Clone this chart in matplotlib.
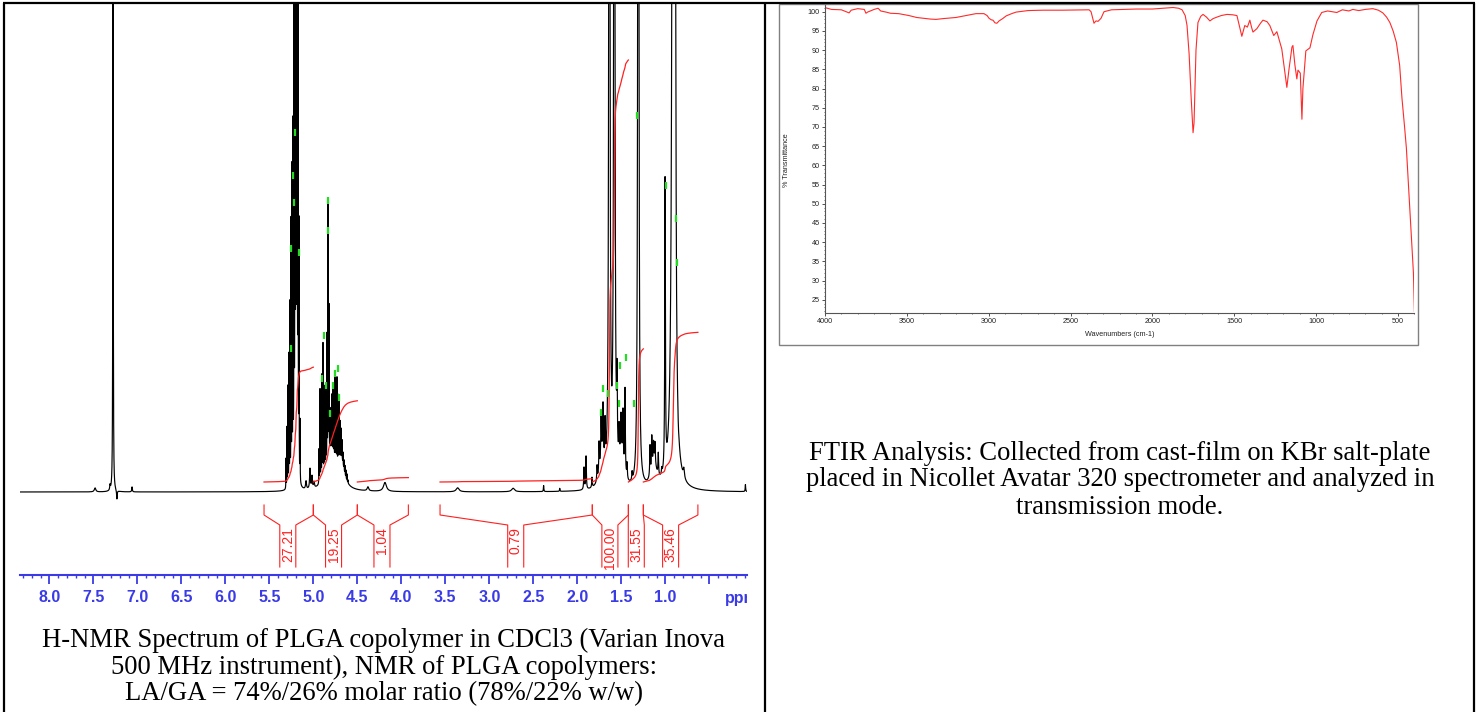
import numpy as np
import matplotlib
matplotlib.use("Agg")
import matplotlib.pyplot as plt
from matplotlib.ticker import MultipleLocator
from matplotlib.transforms import Bbox
from matplotlib.lines import Line2D
from matplotlib.patches import Rectangle

W, H = 1478, 712

# ---------------- NMR data (peak list) ----------------
# isolated / broad peaks
nmr_ppm = [7.48, 7.31, 7.276, 7.232, 7.06,
           5.083, 5.038, 5.015, 4.992,
           4.80, 4.68,
           4.38, 4.186, 3.36, 2.73, 2.383, 2.20,
           1.924, 1.901, 1.833,
           1.72, 1.776, 1.753, 1.730, 1.708, 1.685,
           1.636, 1.580,
           1.50, 1.549, 1.526, 1.504, 1.481, 1.458, 1.435, 1.378,
           1.307,
           1.13, 1.174, 1.154, 1.134, 1.117, 1.080, 1.041,
           1.003, 0.909, 0.886, 0.852, 0.79, 0.09]
nmr_height = [4, 5, 1200, -9, 5,
              8, 20, 12, 6,
              35, 25,
              4, 9, 4, 3.5, 6, 3,
              22, 33, 10,
              30, 15, 30, 40, 50, 40,
              2500, 2500,
              30, 75, 30, 35, 50, 85, 15, 8,
              2500,
              25, 30, 32, 18, 20, 22, 6,
              290, 3000, 400, -5, 9, 7]
nmr_hwhm = [0.01, 0.004, 0.0018, 0.004, 0.004,
            0.006, 0.005, 0.005, 0.006,
            0.06, 0.04,
            0.01, 0.02, 0.02, 0.02, 0.003, 0.003,
            0.004, 0.004, 0.004,
            0.03, 0.004, 0.004, 0.004, 0.004, 0.004,
            0.004, 0.004,
            0.03, 0.004, 0.004, 0.004, 0.004, 0.004, 0.004, 0.004,
            0.004,
            0.035, 0.004, 0.004, 0.004, 0.004, 0.004, 0.004,
            0.004, 0.008, 0.006, 0.005, 0.008, 0.003]

# dense multiplet lines (lactide CH near 5.2 ppm, glycolide CH2 near 4.8 ppm)
mult_ppm = [5.310, 5.299, 5.288, 5.276, 5.265, 5.253, 5.242, 5.231, 5.219, 5.208,
            5.197, 5.185, 5.174, 5.163, 5.151,
            4.935, 4.924, 4.912, 4.901, 4.890, 4.878, 4.867, 4.856, 4.844, 4.833,
            4.822, 4.810, 4.799, 4.788, 4.776, 4.765, 4.753, 4.742, 4.731, 4.719,
            4.708, 4.697, 4.685, 4.674, 4.663, 4.651, 4.640, 4.629, 4.617, 4.606]
mult_height = [30, 60, 100, 130, 180, 260, 310, 350, 600, 900,
               1500, 1400, 700, 250, 60,
               34, 93, 77, 103, 133, 82, 85, 72, 128, 253,
               149, 40, 43, 58, 70, 58, 85, 73, 87, 69,
               64, 39, 30, 20, 12, 10, 9, 8, 7, 3]
mult_hwhm = 0.0015

# integration regions (ppm), values and label positions
int_start = [5.56, 5.00, 4.50, 3.56, 1.83, 1.42, 1.25]
int_end = [5.00, 4.50, 3.92, 1.83, 1.42, 1.25, 0.63]
int_values = [27.21, 19.25, 1.04, 0.79, 100.00, 31.55, 35.46]
int_labels = ["27.21", "19.25", "1.04", "0.79", "100.00", "31.55", "35.46"]
int_label_ppm = [5.29, 4.77, 4.22, 2.70, 1.63, 1.33, 0.94]

# peak-pick marks (ppm, intensity)
mark_ppm = [5.208, 5.231, 5.219, 5.253, 5.163, 5.253, 4.833, 4.833, 4.878, 4.901,
            4.856, 4.776, 4.753, 4.719, 4.708, 4.810, 1.319, 0.989, 0.875, 0.864,
            1.708, 1.730, 1.651, 1.549, 1.515, 1.447, 1.526, 1.356]
mark_int = [360, 317, 290, 244, 240, 144, 292, 262, 157, 114,
            107, 107, 119, 124, 95, 79, 377, 307, 274, 230,
            104, 80, 99, 107, 127, 135, 89, 89]

ppm_major = [8.0, 7.5, 7.0, 6.5, 6.0, 5.5, 5.0, 4.5, 4.0, 3.5, 3.0, 2.5, 2.0, 1.5, 1.0, 0.5]
ppm_labels = ["8.0", "7.5", "7.0", "6.5", "6.0", "5.5", "5.0", "4.5", "4.0", "3.5",
              "3.0", "2.5", "2.0", "1.5", "1.0", ""]

# ---------------- FTIR data ----------------
ftir_wn = [4000, 3994, 3960, 3900, 3853, 3840, 3800, 3760, 3750, 3740, 3700, 3676, 3660,
           3627, 3600, 3550, 3487, 3440, 3401, 3360, 3322, 3280, 3200, 3140, 3078, 3029,
           3010, 2998, 2985, 2974, 2962, 2950, 2937, 2915, 2894, 2860, 2833, 2760, 2668,
           2550, 2387, 2375, 2369, 2357, 2345, 2332, 2314, 2296, 2250, 2180, 2100, 2000,
           1940, 1874, 1840, 1819, 1800, 1789, 1776, 1764, 1752, 1746, 1740, 1734, 1722,
           1705, 1691, 1670, 1649, 1630, 1606, 1580, 1545, 1510, 1484, 1472, 1454, 1445,
           1436, 1420, 1405, 1395, 1386, 1362, 1340, 1325, 1300, 1283, 1259, 1240, 1210,
           1191, 1179, 1166, 1148, 1142, 1130, 1118, 1111, 1097, 1087, 1081, 1063, 1038,
           1020, 995, 966, 930, 874, 840, 800, 776, 740, 700, 654, 620, 593, 570, 550,
           530, 510, 490, 476, 460, 449, 437, 425, 415, 406, 400]
ftir_T = [100.8, 101.0, 100.6, 100.5, 99.7, 100.4, 100.8, 100.6, 99.6, 99.9, 100.6, 100.9, 100.2,
          99.9, 99.6, 99.5, 99.0, 98.5, 98.3, 98.1, 98.0, 98.2, 98.5, 99.0, 99.5, 99.5,
          99.0, 98.3, 97.9, 97.8, 97.1, 97.0, 97.6, 98.2, 98.9, 99.5, 99.9, 100.3, 100.4,
          100.4, 100.5, 100.0, 99.0, 97.0, 97.6, 97.5, 98.3, 100.0, 100.5, 100.6, 100.7, 100.7,
          100.9, 101.1, 100.9, 100.5, 99.0, 96.5, 89.0, 78.0, 68.5, 71.0, 80.0, 90.0, 97.2,
          98.8, 99.3, 98.6, 97.6, 98.2, 98.6, 99.0, 99.3, 99.2, 99.0, 96.8, 93.6, 95.0,
          96.4, 96.0, 97.8, 96.0, 94.7, 95.6, 97.0, 97.8, 97.4, 96.4, 93.8, 94.8, 90.3,
          84.2, 80.3, 85.0, 90.8, 91.2, 86.2, 82.5, 84.8, 84.0, 72.0, 80.0, 89.8, 90.6,
          94.0, 97.6, 99.8, 100.2, 99.8, 100.5, 100.2, 100.6, 100.3, 100.6, 100.8, 100.4, 99.7, 98.6, 97.2,
          95.0, 92.0, 86.0, 77.5, 70.0, 64.5, 55.5, 46.5, 39.0, 32.0, 22.0]
ftir_yticks = list(range(25, 101, 5))
ftir_xticks = [4000, 3500, 3000, 2500, 2000, 1500, 1000, 500]

caption_nmr = ["H-NMR Spectrum of PLGA copolymer in CDCl3 (Varian Inova",
               "500 MHz instrument), NMR of PLGA copolymers:",
               "LA/GA = 74%/26% molar ratio (78%/22% w/w)"]
caption_ftir = ["FTIR Analysis: Collected from cast-film on KBr salt-plate",
                "placed in Nicollet Avatar 320 spectrometer and analyzed in",
                "transmission mode."]

# ---------------- figure ----------------
fig = plt.figure(figsize=(W / 100, H / 100), dpi=100)
fig.patch.set_facecolor("white")


def rect(x0, y0, x1, y1):
    return [x0 / W, 1 - y1 / H, (x1 - x0) / W, (y1 - y0) / H]


SANS = ["Liberation Sans", "DejaVu Sans"]
SERIF = ["Liberation Serif", "DejaVu Serif"]
BLUE = "#3a3ae6"
RED = "#ff2020"

# ---- NMR panel ----
ax = fig.add_axes(rect(20, 3, 747, 575))
ppm = np.linspace(8.333, 0.072, 80000)
spec = np.zeros_like(ppm)
for p, h, w in zip(nmr_ppm, nmr_height, nmr_hwhm):
    spec += h * w ** 2 / ((ppm - p) ** 2 + w ** 2)
for p, h in zip(mult_ppm, mult_height):
    spec += h * mult_hwhm ** 2 / ((ppm - p) ** 2 + mult_hwhm ** 2)
ax.plot(ppm, spec, color="black", lw=0.85)

scale = 4.22
for a, b, v in zip(int_start, int_end, int_values):
    m = (ppm <= a) & (ppm >= b)
    c = np.cumsum(spec[m])
    c = c / c[-1] * v * scale + 10
    ax.plot(ppm[m], c, color=RED, lw=0.9)

d = 0.091
for a, b, c, lab in zip(int_start, int_end, int_label_ppm, int_labels):
    ax.plot([a, a, c + d, c + d], [-13, -23, -33, -75], color=RED, lw=0.8)
    ax.plot([b, b, c - d, c - d], [-13, -23, -33, -75], color=RED, lw=0.8)
    ax.text(c, -35, lab, rotation=90, ha="center", va="top", color=RED,
            fontsize=10, family=SANS)

mi = np.array(mark_int)
ax.vlines(mark_ppm, mi - 3.5, mi + 3.5, color="#22dd22", lw=1.6)

ax.set_xlim(8.333, 0.072)
ax.set_ylim(-83, 489)
for s in ("top", "left", "right"):
    ax.spines[s].set_visible(False)
ax.spines["bottom"].set_color(BLUE)
ax.spines["bottom"].set_linewidth(1.5)
ax.set_yticks([])
ax.set_xticks(ppm_major, labels=ppm_labels)
ax.xaxis.set_minor_locator(MultipleLocator(0.1))
ax.tick_params(axis="x", which="major", direction="out", length=6.5, width=1.3,
               color=BLUE, labelcolor=BLUE, pad=4.5)
ax.tick_params(axis="x", which="minor", direction="out", length=2, width=1.0, color=BLUE)
for t in ax.get_xticklabels():
    t.set_fontfamily(SANS)
    t.set_fontweight("bold")
    t.set_fontsize(11.5)
ax.patch.set_alpha(0)

ppm_txt = fig.text(725 / W, 1 - 598 / H, "ppm", ha="left", va="center", fontsize=11.5,
                   fontweight="bold", color=BLUE, family=SANS)
ppm_txt.set_clip_box(Bbox.from_extents(0, 0, 747, H))
ppm_txt.set_clip_on(True)

for i, line in enumerate(caption_nmr):
    fig.text(384 / W, 1 - (640 + 27 * i) / H, line, ha="center", va="center",
             fontsize=19.2, family=SERIF, color="black")

# ---- FTIR panel ----
fig.add_artist(Rectangle((779 / W, 1 - 345 / H), (1418 - 779) / W, (345 - 4) / H,
                         transform=fig.transFigure, fill=False, edgecolor="#808080", lw=1.0))
ax2 = fig.add_axes(rect(825, 5, 1414.4, 313))
ax2.plot(ftir_wn, ftir_T, color="#ff2a2a", lw=0.8)
ax2.set_xlim(4000, 400)
ax2.set_ylim(21.55, 101.75)
for s in ("top", "right"):
    ax2.spines[s].set_visible(False)
for s in ("left", "bottom"):
    ax2.spines[s].set_color("#555555")
    ax2.spines[s].set_linewidth(0.8)
ax2.set_yticks(ftir_yticks)
ax2.set_xticks(ftir_xticks)
ax2.yaxis.set_minor_locator(MultipleLocator(1))
ax2.xaxis.set_minor_locator(MultipleLocator(100))
ax2.tick_params(which="major", direction="out", length=2.2, width=0.6, color="#333333",
                labelsize=5.2, labelcolor="#222222", pad=1.5)
ax2.tick_params(which="minor", direction="out", length=1.0, width=0.5, color="#333333")
for t in ax2.get_xticklabels() + ax2.get_yticklabels():
    t.set_fontfamily(SANS)
fig.text(786 / W, 1 - 160 / H, "% Transmittance", rotation=90, ha="center", va="center",
         fontsize=5.2, family=SANS, color="#222222")
fig.text(1120 / W, 1 - 335 / H, "Wavenumbers (cm-1)", ha="center", va="center",
         fontsize=5.2, family=SANS, color="#222222")

for i, line in enumerate(caption_ftir):
    fig.text(1120 / W, 1 - (453 + 27 * i) / H, line, ha="center", va="center",
             fontsize=19.2, family=SERIF, color="black")

# ---- table borders ----
def fline(x0, y0, x1, y1):
    fig.add_artist(Line2D([x0 / W, x1 / W], [1 - y0 / H, 1 - y1 / H],
                          transform=fig.transFigure, color="black", lw=1.6,
                          solid_capstyle="butt"))


fline(3, 3, 1475, 3)
fline(4, 3, 4, 712)
fline(765, 3, 765, 712)
fline(1474, 3, 1474, 712)

fig.savefig("out.png", dpi=100, facecolor="white")
